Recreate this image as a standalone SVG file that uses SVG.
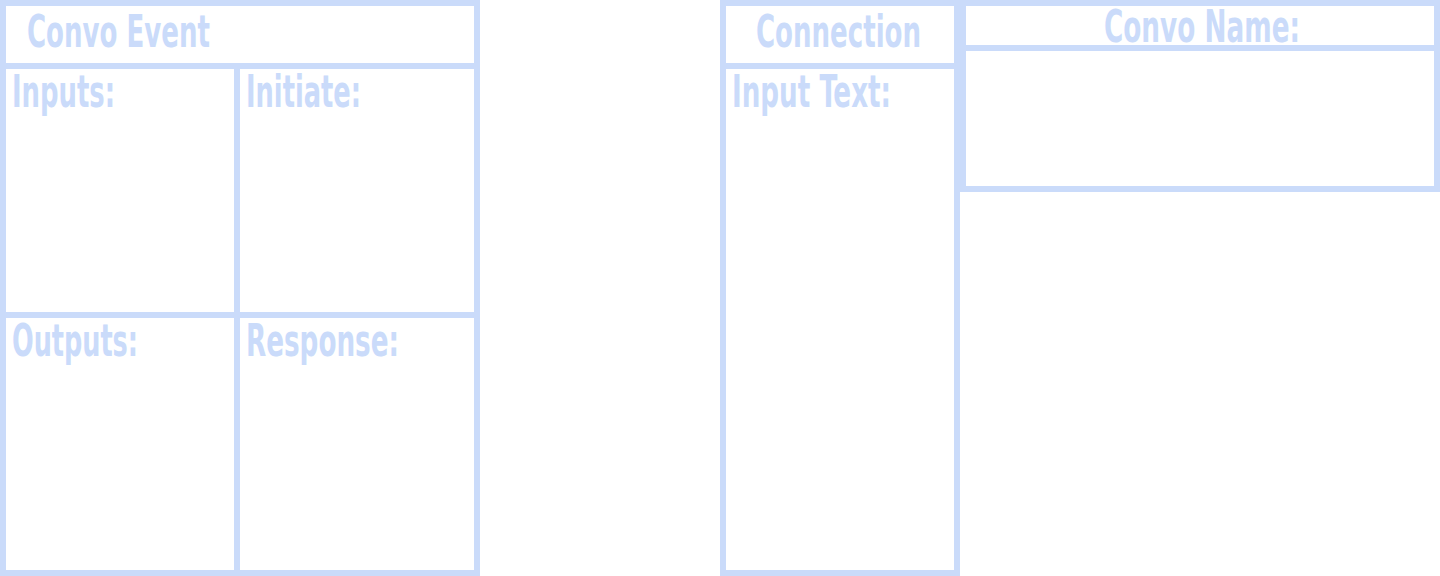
<svg xmlns="http://www.w3.org/2000/svg" width="1440" height="576" viewBox="0 0 1440 576">
  <style>
    .box { fill: #ffffff; stroke: #cadbfa; stroke-width: 6; }
    .ln { stroke: #cadbfa; stroke-width: 6; fill: none; }
    .t { fill: #cadbfa; font-family: "Liberation Sans Narrow", "DejaVu Sans Condensed", "Liberation Sans", sans-serif; font-weight: bold; font-size: 44px; }
  </style>
  <rect width="1440" height="576" fill="#ffffff"/>
  <g id="convo-event">
    <rect class="box" x="3" y="3" width="474" height="570"/>
    <line class="ln" x1="6" y1="66" x2="474" y2="66"/>
    <line class="ln" x1="237" y1="69" x2="237" y2="570"/>
    <line class="ln" x1="6" y1="315" x2="474" y2="315"/>
    <text class="t" x="27" y="47" textLength="183" lengthAdjust="spacingAndGlyphs">Convo Event</text>
    <text class="t" x="12" y="107" textLength="103" lengthAdjust="spacingAndGlyphs">Inputs:</text>
    <text class="t" x="246" y="107" textLength="115" lengthAdjust="spacingAndGlyphs">Initiate:</text>
    <text class="t" x="12" y="356" textLength="126" lengthAdjust="spacingAndGlyphs">Outputs:</text>
    <text class="t" x="246" y="356" textLength="153" lengthAdjust="spacingAndGlyphs">Response:</text>
  </g>
  <g id="connection">
    <rect class="box" x="723" y="3" width="234" height="570"/>
    <line class="ln" x1="726" y1="66" x2="954" y2="66"/>
    <text class="t" x="756" y="47" textLength="165" lengthAdjust="spacingAndGlyphs">Connection</text>
    <text class="t" x="732" y="107" textLength="159" lengthAdjust="spacingAndGlyphs">Input Text:</text>
  </g>
  <g id="convo-name">
    <rect class="box" x="963" y="3" width="474" height="186"/>
    <line class="ln" x1="966" y1="48" x2="1434" y2="48"/>
    <text class="t" x="1104" y="42" textLength="196" lengthAdjust="spacingAndGlyphs">Convo Name:</text>
  </g>
  <g id="connectors"/>
</svg>
